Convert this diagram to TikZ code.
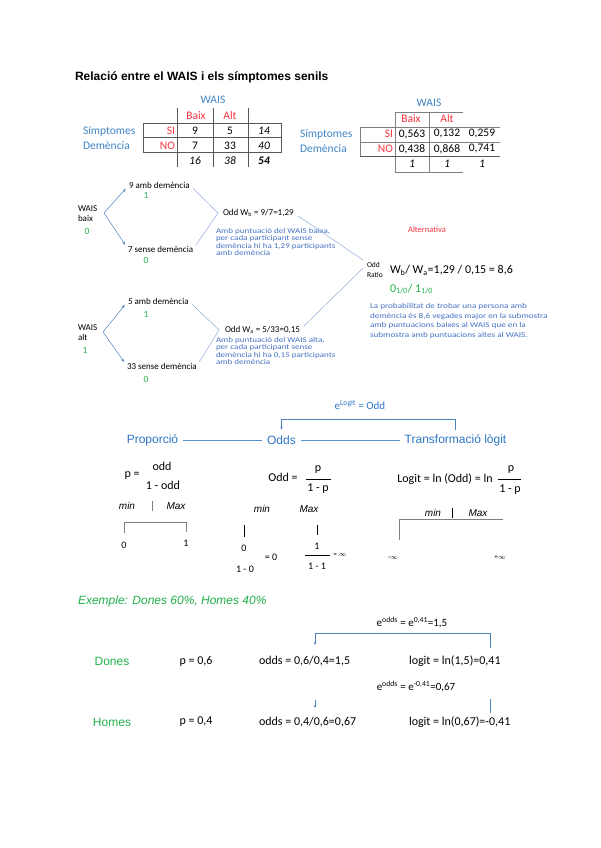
\documentclass[tikz,border=0pt]{standalone}
\usepackage{fontspec}
\setmainfont{Carlito}
\newfontfamily\arialf{Liberation Sans}
\newfontfamily\widef{Carlito}[FakeStretch=1.22]
\usetikzlibrary{arrows.meta, calc, positioning}

\definecolor{waisblue}{HTML}{3D85C6}
\definecolor{headblue}{HTML}{2E75C8}
\definecolor{noteblue}{HTML}{4472C4}
\definecolor{treeblue}{HTML}{8EAADB}
\definecolor{arrowblue}{HTML}{4F81BD}
\definecolor{okgreen}{HTML}{21B04B}
\definecolor{nored}{HTML}{F5333F}
\definecolor{gridgray}{HTML}{595959}

\newcommand{\fsz}[2]{\fontsize{#1}{#2}\selectfont}

\tikzset{
  every node/.style={inner sep=0pt, outer sep=0pt},
  tabtxt/.style={font=\fsz{11.5}{13}},
  tabline/.style={gridgray, line width=0.6pt},
  treetxt/.style={font=\fsz{9}{10}, anchor=west},
  greennum/.style={okgreen, font=\fsz{9.5}{10}},
  note/.style={noteblue, font=\widef\fsz{7.4}{7.3}, align=left, anchor=north west},
  fork/.style={arrowblue, line width=0.5pt, shorten >=5pt, -{Stealth[length=3.5pt, width=2.6pt]}},
  oddline/.style={treeblue, line width=0.5pt, shorten <=5pt, shorten >=5pt},
  head/.style={headblue, font=\arialf\fsz{12}{14}, inner xsep=5pt, inner ysep=2pt},
  headline/.style={headblue!80, line width=0.5pt},
  formula/.style={font=\fsz{12}{14}},
  scaletxt/.style={font=\arialf\itshape\fsz{10}{12}},
  scaleline/.style={gray, line width=0.6pt},
  bracket/.style={arrowblue, line width=0.6pt},
  tip/.style={-{Stealth[length=3pt, width=2.5pt]}},
  examplegreen/.style={okgreen, font=\arialf\fsz{12}{14}},
}

\begin{document}
\begin{tikzpicture}[x=1pt, y=-1pt]
  \useasboundingbox (0,0) rectangle (600,848);

  % titol
  \node[anchor=west, font=\arialf\bfseries\fsz{12}{14}] (titol) at (75,77)
    {Relació entre el WAIS i els símptomes senils};

  % taula de frequencies
  \node[tabtxt, waisblue] (wais1) at (213,100) {WAIS};
  \node[tabtxt, nored] (baix1) at (196,116) {Baix};
  \node[tabtxt, nored] (alt1) at (230,116) {Alt};
  \node[tabtxt, waisblue, anchor=west] (simp1) at (83,131) {Símptomes};
  \node[tabtxt, waisblue, anchor=west] (dem1) at (83,146) {Demència};
  \node[tabtxt, nored, anchor=east] (si1) at (175,131) {SI};
  \node[tabtxt, nored, anchor=east] (no1) at (175,146) {NO};
  \foreach \v/\x/\y in {9/195/131, 5/230/131, 7/195/146, 33/230/146}
    \node[tabtxt] at (\x,\y) {\v};
  \foreach \v/\x/\y in {14/264/131, 40/264/146, 16/195/161, 38/230/161}
    \node[tabtxt, font=\itshape\fsz{11.5}{13}] at (\x,\y) {\v};
  \node[tabtxt, font=\bfseries\itshape\fsz{11.5}{13}] (tot1) at (264,161) {54};
  \draw[tabline] (143,123) rectangle (281,152);
  \draw[tabline] (143,137) -- (281,137);
  \foreach \x in {177,213,248}
    \draw[tabline] (\x,108) -- (\x,167);

  % taula de proporcions
  \node[tabtxt, waisblue] (wais2) at (429,103) {WAIS};
  \node[tabtxt, nored] (baix2) at (411,119) {Baix};
  \node[tabtxt, nored] (alt2) at (447,119) {Alt};
  \node[tabtxt, waisblue, anchor=west] (simp2) at (300,134) {Símptomes};
  \node[tabtxt, waisblue, anchor=west] (dem2) at (300,149) {Demència};
  \node[tabtxt, nored, anchor=east] (si2) at (393,134) {SI};
  \node[tabtxt, nored, anchor=east] (no2) at (393,149) {NO};
  \foreach \v/\x/\y in {{0,563}/412/134, {0,132}/447/134, {0,259}/482/134,
                        {0,438}/412/149, {0,868}/447/149, {0,741}/482/149}
    \node[tabtxt] at (\x,\y) {\v};
  \foreach \x in {412,447,482}
    \node[tabtxt, font=\itshape\fsz{11.5}{13}] at (\x,164) {1};
  \draw[tabline, gray] (395,112) -- (463,112);
  \foreach \x in {395,429}
    \draw[tabline, gray] (\x,112) -- (\x,172);
  \draw[tabline, gray] (360,127) -- (500,127);
  \draw[tabline, gray] (360,142) -- (500,142);
  \draw[tabline, line width=1pt] (360,156) -- (500,156);
  \draw[tabline, gray] (395,172) -- (463,172);
  \draw[tabline, gray] (360,127) -- (360,156);

  % arbre WAIS baix
  \node[treetxt, align=left] (wbaix) at (78,214) {WAIS\\baix};
  \node[greennum] (gbaix) at (87,231) {0};
  \coordinate (fbaix) at (104,213);
  \node[treetxt] (d9) at (129,185) {9 amb demència};
  \node[greennum] (g9) at (146,195) {1};
  \node[treetxt] (s7) at (128,249) {7 sense demència};
  \node[greennum] (g7) at (146,260) {0};
  \draw[fork] (fbaix) -- (d9.west);
  \draw[fork] (fbaix) -- (s7.west);
  \node[treetxt] (oddb) at (223,213) {Odd W\textsubscript{b} = 9/7=1,29};
  \coordinate (kbaix) at (218,213);
  \draw[oddline] (d9.east) -- (kbaix) -- (s7.east);
  \node[note] (notab) at (216,228.5) {Amb puntuació del WAIS baixa,\\per cada participant sense\\demència hi ha 1,29 participants\\amb demència};

  % arbre WAIS alt
  \node[treetxt, align=left] (walt) at (78,333) {WAIS\\alt};
  \node[greennum] (galt) at (85,350) {1};
  \coordinate (falt) at (103,332);
  \node[treetxt] (d5) at (128,301) {5 amb demència};
  \node[greennum] (g5) at (146,314) {1};
  \node[treetxt] (s33) at (127,366) {33 sense demència};
  \node[greennum] (g33) at (146,379) {0};
  \draw[fork] (falt) -- (d5.west);
  \draw[fork] (falt) -- (s33.west);
  \node[treetxt] (odda) at (225,330) {Odd W\textsubscript{a} = 5/33=0,15};
  \coordinate (kalt) at (219,330);
  \draw[oddline] (d5.east) -- (kalt) -- (s33.east);
  \node[note] (notaa) at (216,337.5) {Amb puntuació del WAIS alta,\\per cada participant sense\\demència hi ha 0,15 participants\\amb demència};

  % odd ratio
  \node[anchor=west, align=left, font=\fsz{7.5}{9.5}] (oratio) at (367,270) {Odd\\Ratio};
  \coordinate (orup) at (363,260);
  \coordinate (ordown) at (363,268);
  \draw[oddline, shorten >=0pt] (oddb.east) -- (orup);
  \draw[oddline, shorten >=0pt] (odda.east) -- (ordown);
  \node[anchor=west, font=\fsz{12}{14}] (ratio) at (390,270) {W\textsubscript{b}/ W\textsubscript{a}=1,29 / 0,15 = 8,6};
  \node[anchor=west, okgreen, font=\fsz{12}{14}] (ratiog) at (390,289) {0\textsubscript{1/0}/ 1\textsubscript{1/0}};
  \node[nored, font=\fsz{8.5}{10}] (alter) at (427,230) {Alternativa};
  \node[note, font=\widef\fsz{7.5}{9.6}] (notaor) at (370,303.5) {La probabilitat de trobar una persona amb\\demència és 8,6 vegades major en la submostra\\amb puntuacions baixes al WAIS que en la\\submostra amb puntuacions altes al WAIS.};

  % proporcio, odds i logit
  \node[head] (prop) at (152.5,440) {Proporció};
  \node[head] (odds) at (281.5,440) {Odds};
  \node[head] (transf) at (455.5,440) {Transformació lògit};
  \draw[headline] (prop) -- (odds);
  \draw[headline] (odds) -- (transf);
  \draw[bracket, tip, shorten <=2pt, shorten >=4pt] (transf.north) -- ++(0,-13) -| (odds.north);
  \node[headblue, font=\fsz{11}{13}] (elogit) at (360,405) {e\textsuperscript{Logit} = Odd};

  % formules
  \node[formula] (pform) at (132,476) {p =};
  \node[formula] (podd) at (162,466) {odd};
  \node[formula] (pdenom) at (163,485) {1 - odd};
  \node[formula] (oform) at (283,477) {Odd =};
  \node[formula] (onum) at (318,470) {p};
  \node[formula] (oden) at (318,489) {1 - p};
  \draw[line width=0.5pt] (306,479) -- (331,479);
  \node[formula] (lform) at (445,479) {Logit = ln (Odd) = ln};
  \node[formula] (lnum) at (511,470) {p};
  \node[formula] (lden) at (510,490) {1 - p};
  \draw[line width=0.5pt] (498,479.5) -- (521,479.5);

  % escales
  \node[scaletxt] (pmin) at (127,506) {min};
  \node[scaletxt] (pmax) at (176,506) {Max};
  \draw[scaleline] (152,501) -- (152,511);
  \draw[scaleline] (124,533) -- (124,522) -- (186,522) -- (186,532);
  \node[formula, font=\fsz{10}{12}] (p0) at (124,545) {0};
  \node[formula, font=\fsz{10}{12}] (p1) at (186,543) {1};

  \node[scaletxt] (omin) at (262,509) {min};
  \node[scaletxt] (omax) at (309,509) {Max};
  \draw[line width=0.6pt] (244,525) -- (244,537);
  \draw[line width=0.6pt] (317,525) -- (317,535);
  \node[font=\fsz{10}{12}] (o0) at (244,548) {0};
  \node[font=\fsz{10}{12}] (o0d) at (245,569) {1 - 0};
  \node[font=\fsz{10}{12}] (o0r) at (271,557) {= 0};
  \node[font=\fsz{10}{12}] (o1) at (317,546) {1};
  \draw[line width=0.5pt] (305,555) -- (330,555);
  \node[font=\fsz{10}{12}] (o1d) at (317,566) {1 - 1};
  \node[font=\fsz{7}{8}] (o1r) at (340,555) {= $\infty$};

  \node[scaletxt] (lmin) at (433,513) {min};
  \node[scaletxt] (lmax) at (478,513) {Max};
  \draw[line width=0.6pt] (452,508) -- (452,518);
  \draw[scaleline] (399,540) -- (399,519) -- (503,519);
  \node[font=\fsz{7}{8}] (linf) at (393,558) {-$\infty$};
  \node[font=\fsz{7}{8}] (lsup) at (500,558) {+$\infty$};

  % exemple
  \node[examplegreen, font=\arialf\itshape\fsz{12}{14}, anchor=west] (exemple) at (78,601) {Exemple: Dones 60\%, Homes 40\%};
  \node[formula, font=\fsz{11}{13}] (edones) at (412,623) {e\textsuperscript{odds} = e\textsuperscript{0,41}=1,5};
  \node[examplegreen] (dones) at (112,661) {Dones};
  \node[formula] (pdones) at (196,661) {p = 0,6};
  \node[formula, anchor=west] (odds1) at (259,661) {odds = 0,6/0,4=1,5};
  \node[formula, anchor=west] (logit1) at (409,661) {logit = ln(1,5)=0,41};
  \draw[bracket, tip] (490,648) -- (490,633) -- (315,633) -- (315,645);

  \node[formula, font=\fsz{11}{13}] (ehomes) at (416,687) {e\textsuperscript{odds} = e\textsuperscript{-0,41}=0,67};
  \node[examplegreen] (homes) at (112,722) {Homes};
  \node[formula] (phomes) at (196,722) {p = 0,4};
  \node[formula, anchor=west] (odds2) at (259,722) {odds = 0,4/0,6=0,67};
  \node[formula, anchor=west] (logit2) at (409,722) {logit = ln(0,67)=-0,41};
  \draw[bracket, tip] (315,700) -- (315,708);
  \draw[bracket] (490,699) -- (490,713);
\end{tikzpicture}
\end{document}
